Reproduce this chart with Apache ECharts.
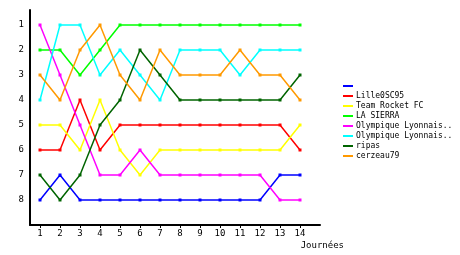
<!DOCTYPE html>
<html><head><meta charset="utf-8">
<script src="https://cdn.jsdelivr.net/npm/echarts@6/dist/echarts.min.js"></script>
<style>html,body{margin:0;padding:0;background:#fff}#c{width:460px;height:255px}</style>
</head><body><div id="c"></div>
<script>
const rounds = [1,2,3,4,5,6,7,8,9,10,11,12,13,14];
const rankTicks = [1,2,3,4,5,6,7,8];
const teamNames = ["", "Lille0SC95", "Team Rocket FC", "LA SIERRA", "Olympique Lyonnais..", "Olympique Lyonnais.. ", "ripas", "cerzeau79"];
const teamColors = ["#0000ff", "#ff0000", "#ffff00", "#00ff00", "#ff00ff", "#00ffff", "#006400", "#ff9900"];
const blueRanks    = [8,7,8,8,8,8,8,8,8,8,8,8,7,7];
const lilleRanks   = [6,6,4,6,5,5,5,5,5,5,5,5,5,6];
const rocketRanks  = [5,5,6,4,6,7,6,6,6,6,6,6,6,5];
const sierraRanks  = [2,2,3,2,1,1,1,1,1,1,1,1,1,1];
const olA_Ranks    = [1,3,5,7,7,6,7,7,7,7,7,7,8,8];
const olB_Ranks    = [4,1,1,3,2,3,4,2,2,2,3,2,2,2];
const ripasRanks   = [7,8,7,5,4,2,3,4,4,4,4,4,4,3];
const cerzeauRanks = [3,4,2,1,3,4,2,3,3,3,2,3,3,4];
const allRanks = [blueRanks, lilleRanks, rocketRanks, sierraRanks, olA_Ranks, olB_Ranks, ripasRanks, cerzeauRanks];

const font = "DejaVu Sans Mono";
const series = allRanks.map((arr, i) => ({
  name: teamNames[i] === "" ? " " : teamNames[i],
  type: 'line',
  data: arr.map((v, j) => [rounds[j], v]),
  symbol: 'rect',
  symbolSize: 3,
  lineStyle: {width: 1.5, color: teamColors[i]},
  itemStyle: {color: teamColors[i]},
  animation: false
}));

const chart = echarts.init(document.getElementById('c'), null, {renderer: 'canvas'});
chart.setOption({
  animation: false,
  grid: {left: 30, right: 140, top: 10, bottom: 30},
  legend: {
    orient: 'vertical', left: 343, top: 82, itemGap: 2, padding: 0,
    itemWidth: 10, itemHeight: 8,
    data: series.map(s => ({name: s.name, icon: 'path://M0,3L10,3L10,5L0,5Z'})),
    textStyle: {fontFamily: font, fontSize: 8, lineHeight: 8, color: '#000', padding: [0,0,0,-2]},
    selectedMode: false
  },
  xAxis: {
    type: 'value', min: 0.5, max: 15,
    name: 'Journées', nameLocation: 'end', nameGap: 0,
    nameTextStyle: {fontFamily: font, fontSize: 9, color: '#000', align: 'right', verticalAlign: 'top', padding: [16, -24, 0, 0]},
    axisLine: {lineStyle: {color: '#000', width: 2}},
    axisTick: {show: true, length: 3, inside: false, customValues: rounds, lineStyle: {color: '#000'}},
    axisLabel: {customValues: rounds, fontFamily: font, fontSize: 9, color: '#000', margin: 4},
    splitLine: {show: false}
  },
  yAxis: {
    type: 'value', min: 0.4, max: 9, inverse: true,
    axisLine: {show: true, lineStyle: {color: '#000', width: 2}},
    axisTick: {show: false, customValues: rankTicks},
    axisLabel: {customValues: rankTicks, fontFamily: font, fontSize: 9, color: '#000', margin: 6},
    splitLine: {show: false}
  },
  series: series
});
</script></body></html>
